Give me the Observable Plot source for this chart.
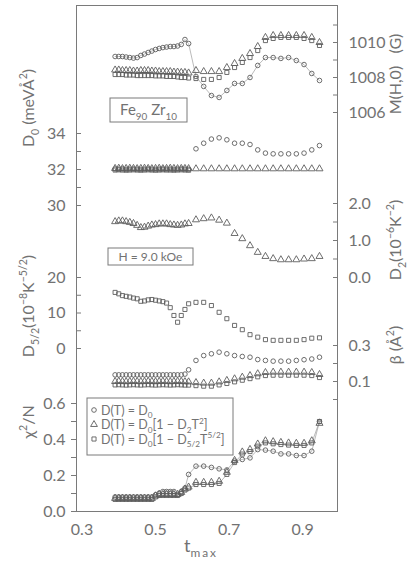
<!DOCTYPE html>
<html><head><meta charset="utf-8">
<script src="https://cdn.jsdelivr.net/npm/d3@7"></script>
<script src="https://cdn.jsdelivr.net/npm/@observablehq/plot@0.6"></script>
<style>body{margin:0;background:#fff} #chart{position:relative;width:411px;height:570px}</style>
</head><body><div id="chart"></div>
<script>
// ---- data ----
const tMax = [0.39,0.40,0.41,0.42,0.43,0.44,0.45,0.46,0.47,0.48,0.49,0.50,0.51,0.52,0.53,0.54,0.55,0.56,0.57,0.58,0.59,
  0.610,0.631,0.652,0.673,0.694,0.715,0.736,0.757,0.778,0.799,0.820,0.841,0.862,0.883,0.904,0.925,0.946];

// M(H,0) (G) — right axis, top panel
const mCirc = [1009.20,1009.20,1009.20,1009.17,1009.14,1009.11,1009.14,1009.26,1009.34,1009.43,1009.51,1009.60,1009.66,1009.71,1009.74,1009.77,1009.77,1009.80,1009.89,1010.17,1009.94,
  1008.06,1007.49,1006.97,1006.86,1007.26,1007.66,1007.66,1008.00,1008.69,1009.14,1009.14,1009.09,1009.14,1008.97,1008.74,1008.23,1007.83];
const mTri = [1008.43,1008.43,1008.40,1008.40,1008.40,1008.37,1008.37,1008.40,1008.40,1008.40,1008.37,1008.37,1008.34,1008.34,1008.34,1008.34,1008.31,1008.31,1008.29,1008.29,1008.26,
  1008.40,1008.34,1008.34,1008.34,1008.57,1008.80,1009.09,1009.37,1009.77,1010.29,1010.40,1010.40,1010.40,1010.40,1010.40,1010.29,1010.00];
const mSq = [1008.17,1008.17,1008.17,1008.14,1008.14,1008.14,1008.11,1008.11,1008.11,1008.11,1008.11,1008.09,1008.09,1008.09,1008.06,1008.06,1008.06,1008.03,1008.00,1008.00,1007.97,
  1007.94,1007.89,1007.89,1008.00,1008.29,1008.57,1008.86,1009.14,1009.54,1010.11,1010.23,1010.29,1010.29,1010.29,1010.23,1010.11,1009.83];

// D0 (meV Å^2) — left axis
const d0Circ = [32.03,32.02,32.03,32.01,32.02,32.03,32.02,32.01,32.02,32.03,32.02,32.01,32.02,32.03,32.02,32.02,32.01,32.02,32.03,32.02,32.01,
  33.15,33.46,33.69,33.76,33.65,33.46,33.46,33.39,33.09,32.91,32.87,32.87,32.87,32.87,32.91,33.09,33.33];
const d0Tri = [32.06,32.07,32.05,32.06,32.07,32.06,32.05,32.06,32.07,32.06,32.05,32.06,32.07,32.05,32.06,32.07,32.06,32.05,32.06,32.06,32.05,
  32.04,32.04,32.04,32.04,32.04,32.04,32.04,32.04,32.04,32.04,32.04,32.04,32.04,32.04,32.04,32.04,32.04];
const d0Sq = [31.97,31.98,31.97,31.96,31.97,31.98,31.97,31.96,31.97,31.98,31.97,31.96,31.97,31.98,31.97,31.97,31.96,31.97,31.98,31.97,31.96,
  null,null,null,null,null,null,null,null,null,null,null,null,null,null,null,null,null];

// D2 (10^-6 K^-2) — right axis
const d2Tri = [1.51,1.53,1.53,1.51,1.49,1.46,1.41,1.35,1.36,1.39,1.42,1.43,1.45,1.45,1.45,1.43,1.42,1.41,1.42,1.45,1.46,
  1.56,1.59,1.61,1.55,1.47,1.19,1.05,0.86,0.68,0.57,0.51,0.48,0.48,0.48,0.50,0.51,0.57];

// D5/2 (10^-8 K^-5/2) — left axis
const d52Sq = [15.8,15.4,14.9,14.7,14.5,14.2,14.0,13.3,13.4,13.7,13.8,13.6,13.4,13.2,12.8,11.5,9.3,7.4,9.3,11.0,12.6,
  13.0,13.0,12.1,10.2,8.4,6.5,5.3,3.9,3.2,2.5,2.3,2.3,2.3,2.3,2.5,2.9,3.0];

// beta (Å^2) — right axis
const betaCirc = [0.137,0.137,0.137,0.137,0.137,0.137,0.137,0.137,0.137,0.137,0.137,0.137,0.137,0.137,0.137,0.137,0.137,0.137,0.137,0.141,0.165,
  0.217,0.244,0.254,0.263,0.254,0.244,0.239,0.235,0.222,0.217,0.213,0.213,0.213,0.217,0.221,0.225,0.235];
const betaTri = [0.100,0.101,0.100,0.099,0.100,0.101,0.100,0.099,0.100,0.101,0.100,0.099,0.100,0.101,0.100,0.099,0.100,0.101,0.100,0.099,0.098,
  0.094,0.091,0.091,0.098,0.106,0.115,0.124,0.133,0.143,0.150,0.152,0.152,0.152,0.152,0.152,0.150,0.139];
const betaSq = [0.081,0.082,0.081,0.080,0.081,0.082,0.081,0.080,0.081,0.082,0.081,0.080,0.081,0.082,0.081,0.080,0.081,0.082,0.081,0.080,0.080,
  0.077,0.074,0.074,0.081,0.089,0.098,0.107,0.116,0.126,0.133,0.135,0.135,0.135,0.135,0.135,0.133,0.122];

// chi^2/N — left axis, bottom panel
const chiCirc = [0.081,0.081,0.081,0.081,0.081,0.081,0.081,0.081,0.081,0.081,0.081,0.093,0.102,0.111,0.111,0.111,0.111,0.093,0.111,0.130,0.206,
  0.252,0.252,0.245,0.237,0.231,0.280,0.289,0.298,0.344,0.341,0.335,0.320,0.320,0.311,0.311,0.335,0.500];
const chiTri = [0.073,0.073,0.073,0.073,0.073,0.073,0.073,0.073,0.073,0.073,0.073,0.087,0.095,0.095,0.095,0.095,0.095,0.095,0.106,0.125,0.136,
  0.162,0.162,0.162,0.168,0.218,0.284,0.331,0.345,0.375,0.393,0.388,0.384,0.381,0.379,0.379,0.393,0.490];
const chiSq = [0.067,0.067,0.067,0.067,0.067,0.067,0.067,0.067,0.067,0.067,0.067,0.081,0.089,0.089,0.089,0.089,0.089,0.089,0.100,0.119,0.130,
  0.150,0.150,0.150,0.156,0.206,0.272,0.319,0.333,0.363,0.381,0.376,0.372,0.369,0.367,0.367,0.381,0.500];

const xTicks = [0.3,0.5,0.7,0.9];
const legendLabels = [
  [["D(T) = D",""],["0","sub"]],
  [["D(T) = D",""],["0","sub"],["[1 − D",""],["2","sub"],["T",""],["2","sup"],["]",""]],
  [["D(T) = D",""],["0","sub"],["[1 − D",""],["5/2","sub"],["T",""],["5/2","sup"],["]",""]]
];

// ---- layout / style ----
const W = 411, H = 570, ML = 76, MR = 74, MT = 5, MB = 59;
const FONT = "Lato, 'DejaVu Sans', sans-serif";
const ink = "#5e5e5e", textInk = "#727272", frameInk = "#7a7a7a", lineInk = "#8c8c8c";

function rows(arr){ return tMax.map((t,i)=>({t, v: arr[i]})).filter(d => d.v != null); }
function dots(arr, symbol){
  return Plot.dot(rows(arr), {x:"t", y:"v", symbol, r: symbol === "triangle" ? 2.6 : 2.3, stroke: ink, strokeWidth: 0.9, fill: "none"});
}
function line(arr){ return Plot.line(rows(arr), {x:"t", y:"v", stroke: lineInk, strokeWidth: 0.6}); }
function yAxis(anchor, ticks, fmt, minor, inward){
  return [
    Plot.axisY({anchor, ticks, tickFormat: fmt, tickSize: 0, tickPadding: 11, label: null, color: textInk, fontSize: 16}),
    Plot.axisY({anchor, ticks: ticks.concat(minor), tickSize: inward ? -5 : 5, fill: "none", label: null, stroke: frameInk})
  ];
}
function panel(y, marks, base){
  return Plot.plot({
    width: W, height: H, marginLeft: ML, marginRight: MR, marginTop: MT, marginBottom: MB,
    x: {domain: [0.285, 0.995], axis: base ? undefined : null},
    y,
    style: {background: "white", fontFamily: FONT, fontSize: "16px", color: textInk},
    marks
  });
}

const base = panel({domain: [1006, 1010], range: [112, 42]}, [
  Plot.frame({stroke: frameInk}),
  Plot.axisX({ticks: xTicks, tickFormat: d => d.toFixed(1), tickSize: 0, tickPadding: 12, label: null, color: textInk, fontSize: 16}),
  line(mCirc), dots(mSq, "square"), dots(mTri, "triangle"), dots(mCirc, "circle"),
  ...yAxis("right", [1006,1008,1010], d => String(d), [1007,1009,1011], true)
], true);

const overlays = [
  panel({domain: [30, 34], range: [205, 133]}, [
    dots(d0Sq, "square"), dots(d0Tri, "triangle"), dots(d0Circ, "circle"),
    ...yAxis("left", [30,32,34], d => String(d), [31,33], true)
  ]),
  panel({domain: [0, 2], range: [277, 203]}, [
    dots(d2Tri, "triangle"),
    ...yAxis("right", [0,1,2], d => d.toFixed(1), [0.5,1.5], true)
  ]),
  panel({domain: [0, 20], range: [348, 277]}, [
    dots(d52Sq, "square"),
    ...yAxis("left", [0,10,20], d => String(d), [5,15], true)
  ]),
  panel({domain: [0.1, 0.3], range: [381, 345]}, [
    dots(betaSq, "square"), dots(betaTri, "triangle"), dots(betaCirc, "circle"),
    ...yAxis("right", [0.1,0.3], d => d.toFixed(1), [0.0,0.2], true)
  ]),
  panel({domain: [0, 0.6], range: [511, 403]}, [
    line(chiSq), line(chiCirc),
    dots(chiSq, "square"), dots(chiTri, "triangle"), dots(chiCirc, "circle"),
    ...yAxis("left", [0,0.2,0.4,0.6], d => d.toFixed(1), [0.1,0.3,0.5], false)
  ])
];
for (const o of overlays) for (const n of [...o.childNodes]) base.appendChild(n);
document.getElementById("chart").appendChild(base);

// ---- text annotations ----
const svg = d3.select(base);
const g = svg.append("g").attr("fill", textInk).attr("text-anchor", "start").style("font-family", FONT);
function rich(text, parts, size){
  let prev = 0;
  for (const [s, m] of parts) {
    const off = m === "sub" ? 0.3*size : m === "sup" ? -0.42*size : 0;
    text.append("tspan").attr("dy", off - prev).attr("font-size", m ? size*0.66 : size).text(s);
    prev = off;
  }
  return text;
}
function vLabel(x, y, parts, size){
  const t = g.append("text").attr("transform", `translate(${x},${y}) rotate(-90)`).attr("text-anchor", "middle");
  rich(t, parts, size);
}
vLabel(34, 108, [["D",""],["0","sub"],[" (meVÅ",""],["2","sup"],[")",""]], 16);
vLabel(34, 306, [["D",""],["5/2","sub"],["(10",""],["−8","sup"],["K",""],["−5/2","sup"],[")",""]], 16);
vLabel(34, 422, [["χ",""],["2","sup"],["/N",""]], 16);
vLabel(401, 74, [["M(H,0)   (G)",""]], 16);
vLabel(401, 240, [["D",""],["2","sub"],["(10",""],["−6","sup"],["K",""],["−2","sup"],[")",""]], 16);
vLabel(401, 345, [["β (Å",""],["2","sup"],[")",""]], 16);

// x label
rich(g.append("text").attr("x", 184).attr("y", 552).attr("text-anchor", "start"),
  [["t",""],["max","sub"]], 18).selectAll("tspan").filter((d, i) => i === 1).attr("letter-spacing", 2);

// boxes
const box = (x, y, w, h) => g.append("rect").attr("x", x).attr("y", y).attr("width", w).attr("height", h)
  .attr("fill", "white").attr("stroke", frameInk).attr("stroke-width", 1);
box(110, 98, 77, 24);
rich(g.append("text").attr("x", 148.5).attr("y", 115).attr("text-anchor", "middle"), [["Fe",""],["90","sub"],[" Zr",""],["10","sub"]], 15);
box(108, 248, 85, 17);
g.append("text").attr("x", 150.5).attr("y", 261).attr("text-anchor", "middle").attr("font-size", 12).text("H = 9.0 kOe");

// legend
box(87, 398, 146, 57);
const symNames = [d3.symbolCircle, d3.symbolTriangle, d3.symbolSquare];
const symSizes = [17, 20, 17];
legendLabels.forEach((parts, i) => {
  const cy = 410 + i*14.5;
  g.append("path").attr("d", d3.symbol(symNames[i], symSizes[i])()).attr("transform", `translate(94,${cy})`)
    .attr("fill", "none").attr("stroke", ink).attr("stroke-width", 0.9);
  rich(g.append("text").attr("x", 101).attr("y", cy + 4.5).attr("text-anchor", "start"), parts, 12.5);
});
</script></body></html>
